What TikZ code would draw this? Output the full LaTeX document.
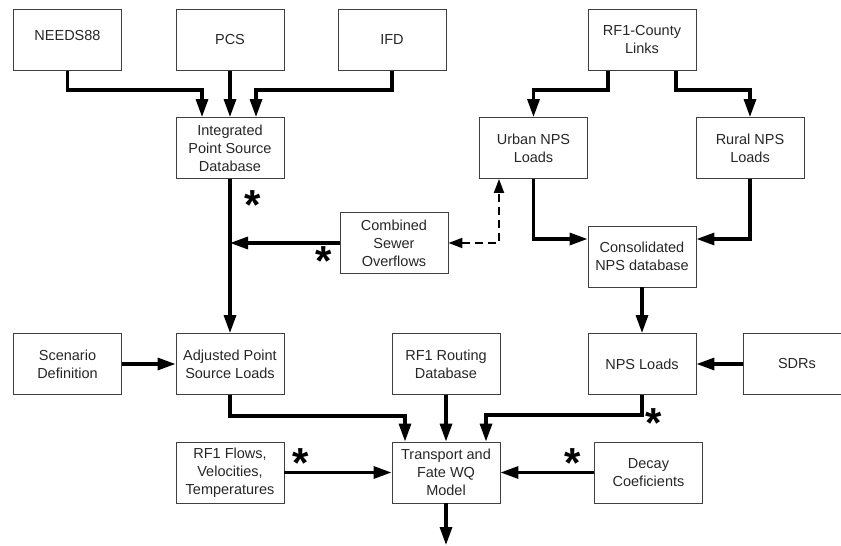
\documentclass[tikz,border=0pt]{standalone}
\usepackage{fontspec}
\setmainfont{Liberation Sans}
\usetikzlibrary{arrows.meta,calc}
\begin{document}
\begin{tikzpicture}[x=1pt,y=-1pt,
  box/.style={draw=black!75, line width=0.9pt, minimum width=108pt, minimum height=61pt,
    align=center, inner sep=0pt, text=black!85, font=\fontsize{14.5}{18}\selectfont},
  arr/.style={line width=3.2pt, -{Triangle[length=18pt,width=12pt]}},
  dasharr/.style={line width=2pt, dash pattern=on 8pt off 5pt,
    {Triangle[length=14pt,width=10pt]}-{Triangle[length=14pt,width=10pt]}},
  star/.style={inner sep=0pt, font=\fontsize{42}{42}\selectfont\bfseries}]
\useasboundingbox (0,0) rectangle (841,546);
% boxes
\node[box] (needs)   at (67.5,40)   {\raisebox{9pt}{NEEDS88}};
\node[box] (pcs)     at (230,40)    {PCS};
\node[box] (ifd)     at (392,40)    {IFD};
\node[box] (rf1c)    at (642,40)    {RF1-County\\Links};
\node[box] (integ)   at (230,148)   {Integrated\\Point Source\\Database};
\node[box] (urban)   at (533.5,148) {Urban NPS\\Loads};
\node[box] (rural)   at (750,148)   {Rural NPS\\Loads};
\node[box] (cso)     at (394,243)   {Combined\\Sewer\\Overflows};
\node[box] (consol)  at (642,256.5) {Consolidated\\NPS database};
\node[box] (scen)    at (67.5,364)  {Scenario\\Definition};
\node[box] (adj)     at (230,364)   {Adjusted Point\\Source Loads};
\node[box] (routing) at (446,364)   {RF1 Routing\\Database};
\node[box] (npsl)    at (642,364)   {NPS Loads};
\node[box] (sdrs)    at (797,364)   {SDRs};
\node[box] (flows)   at (230,472.5) {RF1 Flows,\\Velocities,\\Temperatures};
\node[box] (trans)   at (446,472.5) {Transport and\\Fate WQ\\Model};
\node[box] (decay)   at (648.5,472.5) {Decay\\Coeficients};
\coordinate (out) at (446,545);
% connectors
\draw[arr] (needs.south) -- (needs.south |- 0,90) -| ($(integ.north)+(-28,0)$);
\draw[arr] (pcs.south) -- (integ.north);
\draw[arr] (ifd.south) -- (ifd.south |- 0,90) -| ($(integ.north)+(26,0)$);
\draw[arr] ($(rf1c.south)+(-34,0)$) -- ++(0,19) -| (urban.north);
\draw[arr] ($(rf1c.south)+(34,0)$) -- ++(0,19) -| (rural.north);
\draw[arr] (integ.south) -- (adj.north);
\draw[arr] (cso.west) -- (cso.west -| integ.south);
\draw[dasharr] (cso.east) -| ($(urban.south)+(-34.5,0)$);
\draw[arr] (urban.south) |- ($(consol.west)+(0,-17.5)$);
\draw[arr] (rural.south) |- ($(consol.east)+(0,-17.5)$);
\draw[arr] (consol.south) -- (npsl.north);
\draw[arr] (scen.east) -- (adj.west);
\draw[arr] (sdrs.west) -- (npsl.east);
\draw[arr] (adj.south) -- ++(0,21) -| ($(trans.north)+(-41,0)$);
\draw[arr] (routing.south) -- (trans.north);
\draw[arr] (npsl.south) -- ++(0,20) -| ($(trans.north)+(40,0)$);
\draw[arr] (flows.east) -- (trans.west);
\draw[arr] (decay.west) -- (trans.east);
\draw[arr] (trans.south) -- (out);
% asterisks
\node[star] (s1) at (253,205) {*};
\node[star] (s2) at (324,261) {*};
\node[star] (s3) at (301,463) {*};
\node[star] (s4) at (654,423) {*};
\node[star] (s5) at (573,463) {*};
\end{tikzpicture}
\end{document}
